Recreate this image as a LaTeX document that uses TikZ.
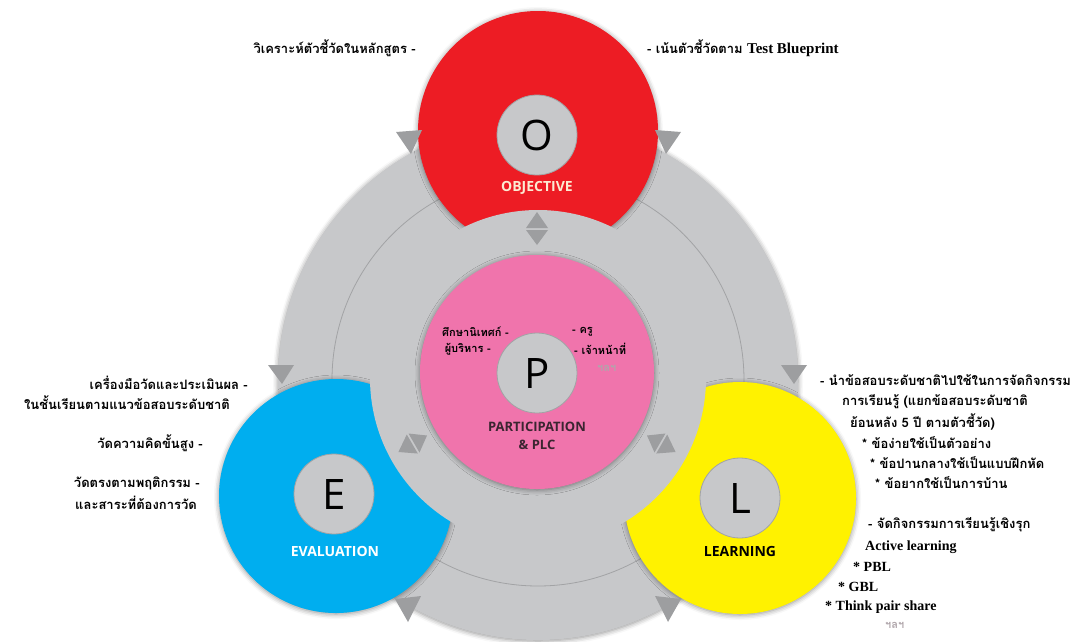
\documentclass[tikz,border=0pt]{standalone}
\usepackage{fontspec}
\setmainfont{Open Sans}
\newfontfamily\thaifont[Script=Thai]{Loma}
\newfontfamily\latinfont{Liberation Serif}
\usepackage{xcolor}
\definecolor{ringgray}{HTML}{C7C8CA}
\definecolor{linegray}{HTML}{A2A3A5}
\definecolor{tipgray}{HTML}{9D9EA0}
\definecolor{objred}{HTML}{ED1C24}
\definecolor{evalblue}{HTML}{00AEEF}
\definecolor{learnyellow}{HTML}{FFF200}
\definecolor{partpink}{HTML}{F074AC}
\definecolor{objtext}{HTML}{FCEBD2}
\definecolor{ptext}{HTML}{3A2530}
\definecolor{faintgray}{HTML}{B0A6AB}
\usetikzlibrary{calc,positioning,shadows.blur}

\begin{document}
\begin{tikzpicture}[
	%	style def
    x=1pt, y=-1pt,
    arrowhead/.style={fill=tipgray},
    soft shade/.style={blur shadow={shadow xshift=0pt, shadow yshift=-1pt, shadow blur radius=5pt, shadow opacity=45}},
    letter circle/.style={circle, fill=ringgray, draw=linegray, line width=0.8pt, minimum size=80pt, inner sep=0pt, font=\fontsize{42}{42}\selectfont},
    capname/.style={inner sep=0pt, font=\fontsize{14}{18}\selectfont\bfseries},
    thai note/.style={inner sep=0pt, font=\thaifont\bfseries\fontsize{13}{15}\selectfont},
    thai small/.style={inner sep=0pt, font=\thaifont\bfseries\fontsize{11}{13}\selectfont},
    latin note/.style={inner sep=0pt, font=\latinfont\bfseries\fontsize{14}{16}\selectfont}
    ]
	\useasboundingbox (0,0) rectangle (1085,641);
	\coordinate (ring) at (538,380);
	\coordinate (O) at (538,131);
	\coordinate (E) at (336,496);
	\coordinate (L) at (740,498);
	\coordinate (P) at (537,372);

	% big ring
	\fill[ringgray, soft shade] (ring) circle (260);
	\draw[linegray, line width=0.8pt] (ring) circle (206);
	\fill[objred, soft shade] (O) circle (120);
	\fill[evalblue, soft shade] (E) circle (117);
	\fill[learnyellow, soft shade] (L) circle (116);
	% bite out of the coloured circles
	\fill[ringgray] (538,378) circle (168);

	% arrow heads of the ring
	\fill[arrowhead] (396,132) -- (422,130) -- (411,154) -- cycle;
	\fill[arrowhead] (655,130) -- (681,132) -- (666,154) -- cycle;
	\fill[arrowhead] (268,365) -- (294,365) -- (282,384) -- cycle;
	\fill[arrowhead] (781,365) -- (807,365) -- (794,384) -- cycle;
	\fill[arrowhead] (395,599) -- (421,596) -- (408,622) -- cycle;
	\fill[arrowhead] (655,596) -- (681,599) -- (668,622) -- cycle;

	% double arrows round P
	\fill[arrowhead] (537,212) -- (548,228) -- (526,228) -- cycle;
	\fill[arrowhead] (537,245) -- (548,230) -- (526,230) -- cycle;
	\fill[arrowhead] (398.4,452) -- (406.8,434.5) -- (417.8,453.5) -- cycle;
	\fill[arrowhead] (427,435.5) -- (408.5,433.5) -- (419.5,452.5) -- cycle;
	\fill[arrowhead] (675.6,452) -- (656.2,453.5) -- (667.2,434.5) -- cycle;
	\fill[arrowhead] (647,435.5) -- (654.5,452.5) -- (665.5,433.5) -- cycle;

	\fill[partpink, soft shade] (P) circle (117);

	% letters
	\node[letter circle] (Oc) at (537,135) {O};
	\node[letter circle] (Ec) at (334,494) {E};
	\node[letter circle] (Lc) at (740,498) {L};
	\node[letter circle] (Pc) at (537,373) {P};
	\node[capname, text=objtext] (o0) at (537,188) {OBJECTIVE};
	\node[capname, text=white] (e0) at (335,551) {EVALUATION};
	\node[capname, text=black] (l0) at (740,551) {LEARNING};
	\node[capname, text=ptext, align=center, font=\fontsize{13}{18}\selectfont\bfseries] (p0) at (537,436) {PARTICIPATION\\\& PLC};

	% texts of O
	\node[thai note, anchor=east] (o1) at (416,48) {วิเคราะห์ตัวชี้วัดในหลักสูตร -};
	\node[thai note, anchor=west] (o2) at (647,48) {- เน้นตัวชี้วัดตาม {\latinfont\fontsize{15}{15}\selectfont Test Blueprint}};

	% texts of P
	\node[thai small, anchor=east] (p1) at (509,332) {ศึกษานิเทศก์ -};
	\node[thai small, anchor=east] (p2) at (491,349) {ผู้บริหาร -};
	\node[thai small, anchor=west] (p3) at (572,332) {- ครู};
	\node[thai small, anchor=west] (p4) at (574,349) {- เจ้าหน้าที่};
	\node[thai small, anchor=west, text=faintgray] (p5) at (597,368) {ฯลฯ};

	% texts of E
	\node[thai note, anchor=east] (e1) at (248,383) {เครื่องมือวัดและประเมินผล -};
	\node[thai note, anchor=east] (e2) at (230,403) {ในชั้นเรียนตามแนวข้อสอบระดับชาติ};
	\node[thai note, anchor=east] (e3) at (203,443) {วัดความคิดขั้นสูง -};
	\node[thai note, anchor=east] (e4) at (200,483) {วัดตรงตามพฤติกรรม -};
	\node[thai note, anchor=east] (e5) at (197,503) {และสาระที่ต้องการวัด};

	% texts of L
	\node[thai note, anchor=west] (l1) at (820,380) {- นำข้อสอบระดับชาติไปใช้ในการจัดกิจกรรม};
	\node[thai note, anchor=west] (l2) at (842,402) {การเรียนรู้ (แยกข้อสอบระดับชาติ};
	\node[thai note, anchor=west] (l3) at (850,422) {ย้อนหลัง 5 ปี ตามตัวชี้วัด)};
	\node[thai note, anchor=west] (l4) at (862,443) {* ข้อง่ายใช้เป็นตัวอย่าง};
	\node[thai note, anchor=west] (l5) at (870,463) {* ข้อปานกลางใช้เป็นแบบฝึกหัด};
	\node[thai note, anchor=west] (l6) at (875,483) {* ข้อยากใช้เป็นการบ้าน};
	\node[thai note, anchor=west] (l7) at (868,525) {- จัดกิจกรรมการเรียนรู้เชิงรุก};
	\node[latin note, anchor=west] (l8) at (865,547) {Active learning};
	\node[latin note, anchor=west] (l9) at (853,567) {* PBL};
	\node[latin note, anchor=west] (l10) at (838,587) {* GBL};
	\node[latin note, anchor=west] (l11) at (825,607) {* Think pair share};
	\node[thai small, anchor=west, text=faintgray] (l12) at (885,625) {ฯลฯ};
\end{tikzpicture}
\end{document}
